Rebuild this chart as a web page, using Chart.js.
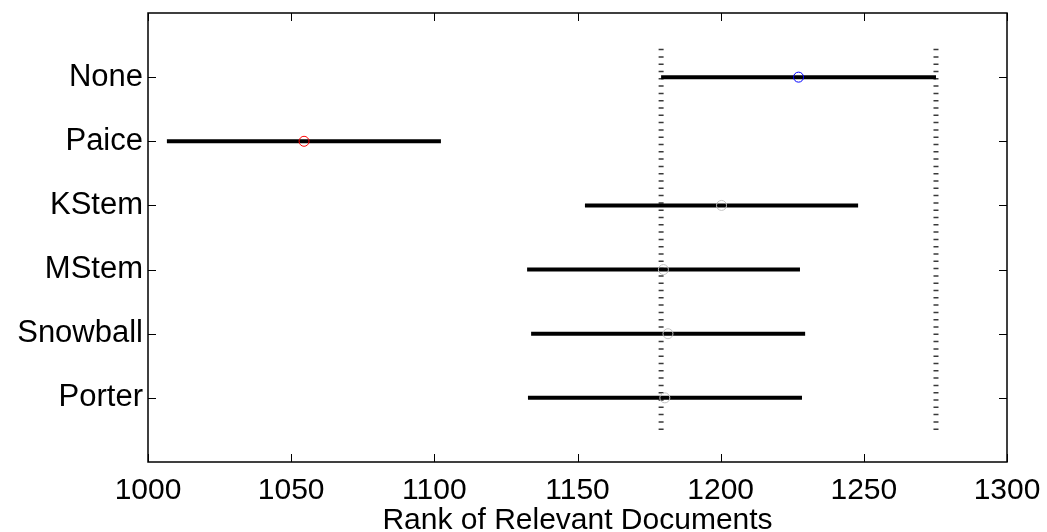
<!DOCTYPE html>
<html>
<head>
<meta charset="utf-8">
<script src="https://cdn.jsdelivr.net/npm/chart.js@4"></script>
<style>
  body { margin: 0; background: #fff; }
</style>
</head>
<body>
<canvas id="rankChart" width="1047" height="532"></canvas>
<script>
// stemmers, top row first
const stemmers = ['None', 'Paice', 'KStem', 'MStem', 'Snowball', 'Porter'];
const meanRank = [1227.2, 1054.5, 1200.3, 1180.0, 1181.6, 1180.5];
const lowerRank = [1179.2, 1006.6, 1152.6, 1132.4, 1133.8, 1132.7];
const upperRank = [1275.2, 1102.3, 1248.0, 1227.7, 1229.5, 1228.4];
const xTicks = [1000, 1050, 1100, 1150, 1200, 1250, 1300];
const markerColors = ['#0000ff', '#ff0000', '#c4c4c4', '#c4c4c4', '#c4c4c4', '#c4c4c4'];

const rowOf = i => stemmers.length - i;
const font = "'Liberation Sans', Arial, Helvetica, sans-serif";

const datasets = [];

// reference lines at the bounds of the first group
[lowerRank[0], upperRank[0]].forEach(v => {
  datasets.push({
    data: [{ x: v, y: 0.5 }, { x: v, y: stemmers.length + 0.5 }],
    showLine: true,
    borderColor: '#3a3a3a',
    borderWidth: 5,
    borderDash: [1.5, 5.8],
    pointRadius: 0,
    order: 3
  });
});

stemmers.forEach((s, i) => {
  datasets.push({
    label: s,
    data: [{ x: lowerRank[i], y: rowOf(i) }, { x: upperRank[i], y: rowOf(i) }],
    showLine: true,
    borderColor: '#000',
    borderWidth: 4,
    pointRadius: 0,
    order: 2
  });
});

datasets.push({
  data: meanRank.map((m, i) => ({ x: m, y: rowOf(i) })),
  pointRadius: 5,
  pointBorderWidth: 1,
  pointBorderColor: markerColors,
  pointBackgroundColor: 'rgba(0,0,0,0)',
  showLine: false,
  order: 1
});

// MATLAB style box with inward ticks on all sides
const framePlugin = {
  id: 'frame',
  afterDatasetsDraw(chart) {
    const { ctx, chartArea: a, scales } = chart;
    ctx.save();
    ctx.strokeStyle = '#000';
    ctx.lineWidth = 1;
    const len = 8;
    ctx.beginPath();
    xTicks.forEach(t => {
      const px = Math.round(scales.x.getPixelForValue(t)) + 0.5;
      ctx.moveTo(px, a.bottom); ctx.lineTo(px, a.bottom - len);
      ctx.moveTo(px, a.top); ctx.lineTo(px, a.top + len);
    });
    stemmers.forEach((s, i) => {
      const py = Math.round(scales.y.getPixelForValue(rowOf(i))) + 0.5;
      ctx.moveTo(a.left, py); ctx.lineTo(a.left + len, py);
      ctx.moveTo(a.right, py); ctx.lineTo(a.right - len, py);
    });
    ctx.stroke();
    ctx.lineWidth = 1.5;
    ctx.strokeRect(a.left, a.top, a.right - a.left, a.bottom - a.top);
    ctx.restore();
  }
};

new Chart(document.getElementById('rankChart').getContext('2d'), {
  type: 'scatter',
  data: { datasets: datasets },
  options: {
    responsive: false,
    animation: false,
    layout: { autoPadding: false, padding: { top: 13, right: 40, left: 0, bottom: 0 } },
    plugins: { legend: { display: false }, tooltip: { enabled: false } },
    scales: {
      x: {
        type: 'linear',
        min: 1000,
        max: 1300,
        afterBuildTicks: scale => { scale.ticks = xTicks.map(v => ({ value: v })); },
        afterFit: scale => {
          scale.height = 70;
          scale.paddingLeft = 0;
          scale.paddingRight = 0;
        },
        grid: { display: false, drawTicks: false },
        border: { display: false },
        ticks: {
          color: '#000',
          font: { family: font, size: 30 },
          padding: 11,
          callback: v => String(v)
        },
        title: {
          display: true,
          text: 'Rank of Relevant Documents',
          color: '#000',
          font: { family: font, size: 30 },
          padding: { top: 0, bottom: -7 }
        }
      },
      y: {
        type: 'linear',
        min: 0,
        max: stemmers.length + 1,
        afterBuildTicks: scale => { scale.ticks = stemmers.map((s, i) => ({ value: rowOf(i) })); },
        afterFit: scale => {
          scale.width = 148;
          scale.paddingTop = 0;
          scale.paddingBottom = 0;
        },
        grid: { display: false, drawTicks: false },
        border: { display: false },
        ticks: {
          color: '#000',
          font: { family: font, size: 31 },
          padding: 5,
          callback: v => stemmers[stemmers.length - v]
        }
      }
    }
  },
  plugins: [framePlugin]
});
</script>
</body>
</html>
